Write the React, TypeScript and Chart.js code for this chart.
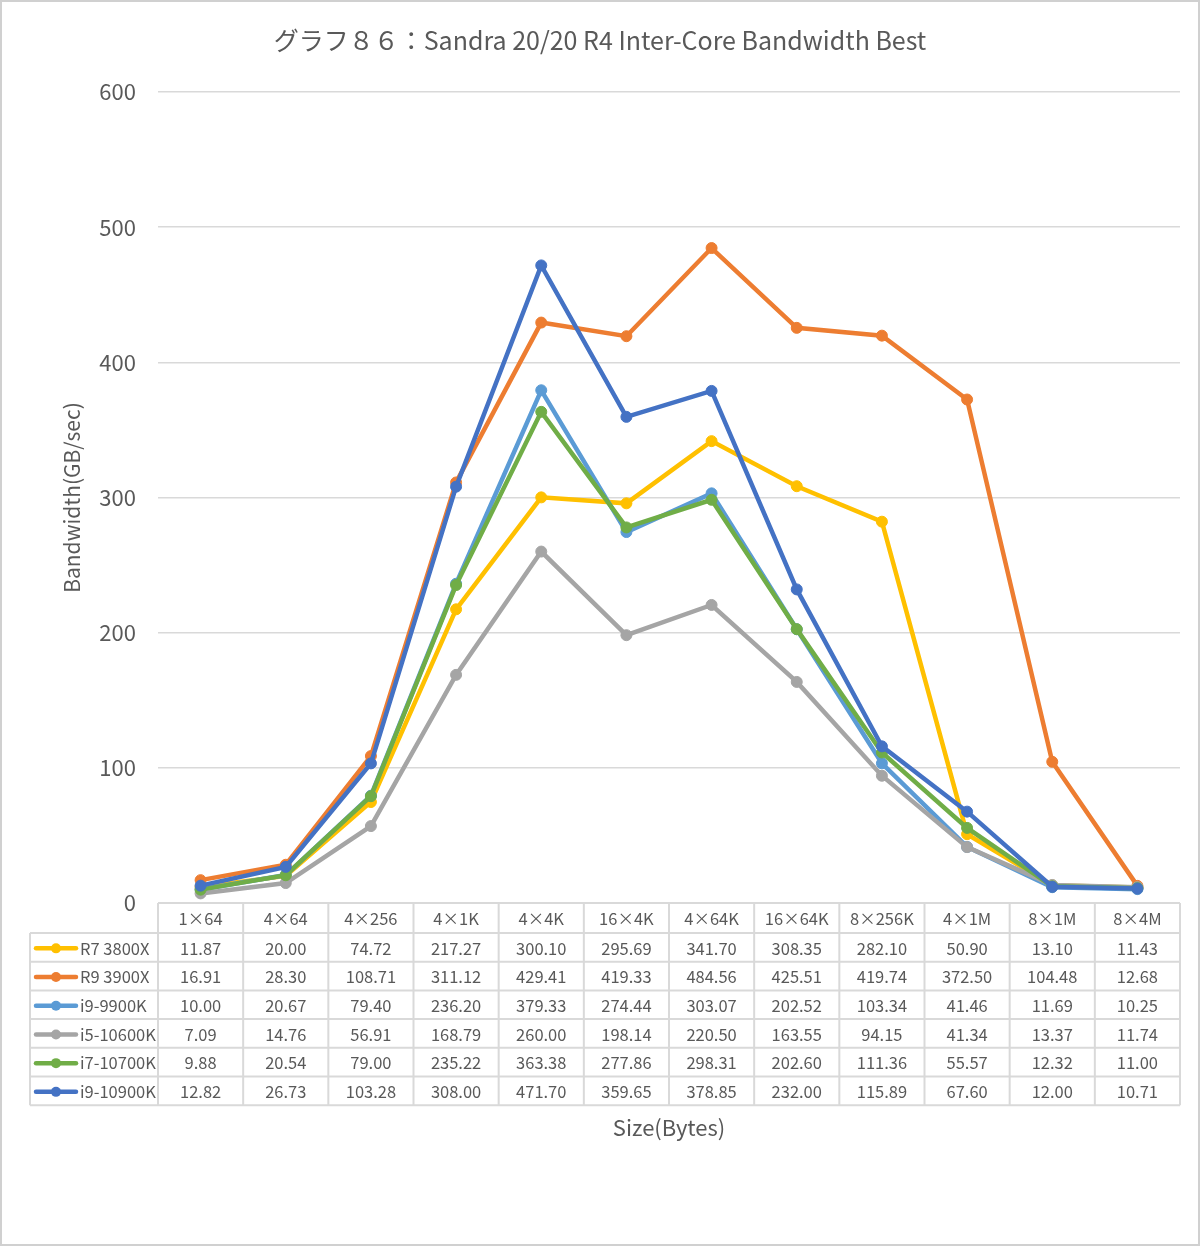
import React, { useEffect, useRef } from "react";
import { Chart, registerables } from "chart.js";

Chart.register(...registerables);

const chartTitle = "グラフ８６：Sandra 20/20 R4 Inter-Core Bandwidth Best";
const xAxisTitle = "Size(Bytes)";
const yAxisTitle = "Bandwidth(GB/sec)";

const categories = ["1×64", "4×64", "4×256", "4×1K", "4×4K", "16×4K", "4×64K", "16×64K", "8×256K", "4×1M", "8×1M", "8×4M"];

const seriesNames = ["R7 3800X", "R9 3900X", "i9-9900K", "i5-10600K", "i7-10700K", "i9-10900K"];
const seriesColors = ["#FFC000", "#ED7D31", "#5B9BD5", "#A5A5A5", "#70AD47", "#4472C4"];

const r7_3800x = [11.87, 20.0, 74.72, 217.27, 300.1, 295.69, 341.7, 308.35, 282.1, 50.9, 13.1, 11.43];
const r9_3900x = [16.91, 28.3, 108.71, 311.12, 429.41, 419.33, 484.56, 425.51, 419.74, 372.5, 104.48, 12.68];
const i9_9900k = [10.0, 20.67, 79.4, 236.2, 379.33, 274.44, 303.07, 202.52, 103.34, 41.46, 11.69, 10.25];
const i5_10600k = [7.09, 14.76, 56.91, 168.79, 260.0, 198.14, 220.5, 163.55, 94.15, 41.34, 13.37, 11.74];
const i7_10700k = [9.88, 20.54, 79.0, 235.22, 363.38, 277.86, 298.31, 202.6, 111.36, 55.57, 12.32, 11.0];
const i9_10900k = [12.82, 26.73, 103.28, 308.0, 471.7, 359.65, 378.85, 232.0, 115.89, 67.6, 12.0, 10.71];

const seriesValues = [r7_3800x, r9_3900x, i9_9900k, i5_10600k, i7_10700k, i9_10900k];

const yMin = 0;
const yMax = 600;
const yStep = 100;

const TEXT = "#595959";
const GRID = "#D9D9D9";
const FONT = "'Noto Sans CJK JP', 'Noto Sans', sans-serif";

const W = 1200;
const H = 1246;

const overlayPlugin = {
  id: "overlay",
  afterDraw(chart: any) {
    const ctx = chart.ctx as CanvasRenderingContext2D;
    const area = chart.chartArea;
    const xs = chart.scales.x;
    ctx.save();

    // outer border
    ctx.strokeStyle = "#D0D0D0";
    ctx.lineWidth = 2;
    ctx.strokeRect(1, 1, W - 2, H - 2);

    // title
    ctx.fillStyle = TEXT;
    ctx.font = `25px ${FONT}`;
    ctx.textAlign = "center";
    ctx.textBaseline = "middle";
    ctx.fillText(chartTitle, 600, 40);

    // data table
    const colW = xs.getPixelForValue(1) - xs.getPixelForValue(0);
    const top = area.bottom;
    const headH = 30;
    const rowH = 28.7;
    const legendLeft = 30;
    const bottom = top + headH + rowH * seriesNames.length;
    ctx.strokeStyle = GRID;
    ctx.lineWidth = 2;
    ctx.beginPath();
    ctx.moveTo(area.left, top);
    ctx.lineTo(area.right, top);
    for (let r = 0; r <= seriesNames.length; r++) {
      const y = top + headH + r * rowH;
      ctx.moveTo(legendLeft, y);
      ctx.lineTo(area.right, y);
    }
    ctx.moveTo(legendLeft, top + headH);
    ctx.lineTo(legendLeft, bottom);
    for (let i = 0; i <= categories.length; i++) {
      const x = xs.getPixelForValue(Math.min(i, categories.length - 1)) + (i === categories.length ? colW / 2 : -colW / 2);
      ctx.moveTo(x, top);
      ctx.lineTo(x, bottom);
    }
    ctx.stroke();

    ctx.font = `16.5px ${FONT}`;
    ctx.fillStyle = TEXT;
    ctx.textAlign = "center";
    ctx.textBaseline = "middle";
    categories.forEach((c, i) => {
      ctx.fillText(c, xs.getPixelForValue(i), top + headH / 2 + 1);
    });
    seriesNames.forEach((name, r) => {
      const yc = top + headH + r * rowH + rowH / 2 + 1;
      // legend key
      ctx.strokeStyle = seriesColors[r];
      ctx.lineWidth = 4.5;
      ctx.lineCap = "round";
      ctx.beginPath();
      ctx.moveTo(36, yc);
      ctx.lineTo(76, yc);
      ctx.stroke();
      ctx.fillStyle = seriesColors[r];
      ctx.beginPath();
      ctx.arc(56, yc, 5, 0, Math.PI * 2);
      ctx.fill();
      ctx.fillStyle = TEXT;
      ctx.textAlign = "left";
      ctx.fillText(name, 80, yc);
      ctx.textAlign = "center";
      seriesValues[r].forEach((v, i) => {
        ctx.fillText(v.toFixed(2), xs.getPixelForValue(i), yc);
      });
    });

    // x axis title
    ctx.font = `22px ${FONT}`;
    ctx.fillText(xAxisTitle, (area.left + area.right) / 2, 1128);
    ctx.restore();
  },
};

export default function App() {
  const ref = useRef<HTMLCanvasElement | null>(null);
  useEffect(() => {
    if (!ref.current) return;
    const datasets = seriesNames.map((name, i) => ({
      label: name,
      data: seriesValues[i],
      borderColor: seriesColors[i],
      backgroundColor: seriesColors[i],
      pointBackgroundColor: seriesColors[i],
      pointBorderColor: seriesColors[i],
      borderWidth: 4.5,
      pointRadius: 5.5,
      pointBorderWidth: 1,
      tension: 0,
      order: seriesNames.length - 1 - i,
    }));
    const chart = new Chart(ref.current, {
      type: "line",
      data: { labels: categories, datasets },
      options: {
        responsive: false,
        animation: false,
        layout: { padding: { top: 92, right: 20, left: 0, bottom: 0 } },
        plugins: {
          legend: { display: false },
          title: { display: false },
          tooltip: { enabled: false },
        },
        scales: {
          x: {
            type: "category",
            offset: true,
            ticks: { display: false },
            grid: { display: false },
            border: { display: false },
            afterFit: (s: any) => {
              s.height = H - 903;
            },
          },
          y: {
            min: yMin,
            max: yMax,
            ticks: {
              stepSize: yStep,
              color: TEXT,
              padding: 22,
              font: { family: FONT, size: 22 },
            },
            grid: { color: GRID, lineWidth: 1.5, drawTicks: false, tickLength: 0 },
            border: { display: false },
            title: {
              display: true,
              text: yAxisTitle,
              color: TEXT,
              font: { family: FONT, size: 21 },
              padding: { top: 59, bottom: 0 },
            },
            afterFit: (s: any) => {
              s.width = 158;
            },
          },
        },
      },
      plugins: [overlayPlugin],
    });
    return () => chart.destroy();
  }, []);
  return (
    <div style={{ position: "absolute", left: 0, top: 0, width: W, height: H, background: "#fff" }}>
      <canvas ref={ref} width={W} height={H} />
    </div>
  );
}
